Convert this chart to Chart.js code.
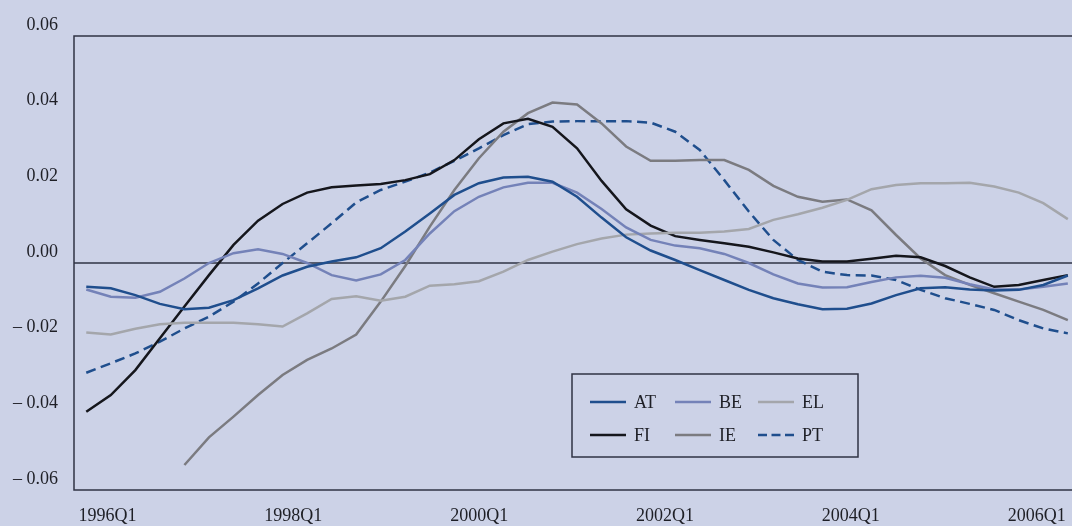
<!DOCTYPE html>
<html>
<head>
<meta charset="utf-8">
<script src="https://cdn.jsdelivr.net/npm/chart.js@4.4.0/dist/chart.umd.min.js"></script>
<style>
  html, body { margin: 0; padding: 0; background: #ccd2e7; }
  #wrap { position: relative; width: 1072px; height: 526px; }
</style>
</head>
<body>
<div id="wrap"><canvas id="myChart"></canvas></div>
<script>
// quarterly data, 1996Q1 .. 2006Q1
const quarters = [];
for (let yr = 1996; yr <= 2006; yr++) {
  for (let q = 1; q <= 4; q++) {
    if (yr === 2006 && q > 1) break;
    quarters.push(yr + 'Q' + q);
  }
}

const xTickLabels = ['1996Q1', '1998Q1', '2000Q1', '2002Q1', '2004Q1', '2006Q1'];
const yTicks = [-0.06, -0.04, -0.02, 0, 0.02, 0.04, 0.06];

const AT = [-0.0063, -0.0067, -0.0085, -0.0108, -0.0122, -0.0118, -0.0098, -0.0067, -0.0033, -0.0010, 0.0004,
  0.0015, 0.0039, 0.0083, 0.0131, 0.0180, 0.0211, 0.0226, 0.0228, 0.0215, 0.0175,
  0.0120, 0.0068, 0.0033, 0.0008, -0.0019, -0.0045, -0.0071, -0.0093, -0.0109, -0.0122,
  -0.0121, -0.0107, -0.0085, -0.0067, -0.0064, -0.0070, -0.0073, -0.0071, -0.0058, -0.0033];
const BE = [-0.0070, -0.0089, -0.0092, -0.0076, -0.0041, 0.0000, 0.0026, 0.0036, 0.0024, 0.0000, -0.0032,
  -0.0046, -0.0030, 0.0008, 0.0078, 0.0137, 0.0175, 0.0200, 0.0212, 0.0212, 0.0186,
  0.0143, 0.0094, 0.0061, 0.0046, 0.0039, 0.0024, 0.0000, -0.0030, -0.0054, -0.0065,
  -0.0064, -0.0050, -0.0038, -0.0034, -0.0039, -0.0056, -0.0070, -0.0070, -0.0063, -0.0054];
const EL = [-0.0184, -0.0189, -0.0174, -0.0162, -0.0158, -0.0158, -0.0158, -0.0162, -0.0168, -0.0133, -0.0095,
  -0.0088, -0.0100, -0.0089, -0.0060, -0.0056, -0.0048, -0.0023, 0.0008, 0.0030, 0.0050,
  0.0065, 0.0075, 0.0078, 0.0080, 0.0080, 0.0083, 0.0090, 0.0114, 0.0129, 0.0146,
  0.0167, 0.0195, 0.0206, 0.0211, 0.0211, 0.0212, 0.0202, 0.0186, 0.0158, 0.0116];
const FI = [-0.0393, -0.0349, -0.0283, -0.0199, -0.0115, -0.0032, 0.0048, 0.0112, 0.0156, 0.0186, 0.0200,
  0.0205, 0.0209, 0.0219, 0.0235, 0.0272, 0.0327, 0.0369, 0.0381, 0.0360, 0.0303,
  0.0217, 0.0142, 0.0099, 0.0071, 0.0061, 0.0052, 0.0043, 0.0028, 0.0012, 0.0004,
  0.0004, 0.0011, 0.0019, 0.0015, -0.0008, -0.0038, -0.0063, -0.0058, -0.0045, -0.0032];
const IE = [null, null, null, null, -0.0534, -0.0461, -0.0406, -0.0349, -0.0296, -0.0256, -0.0226,
  -0.0189, -0.0102, -0.0008, 0.0096, 0.0193, 0.0277, 0.0347, 0.0396, 0.0424, 0.0419,
  0.0369, 0.0308, 0.0270, 0.0270, 0.0272, 0.0272, 0.0246, 0.0204, 0.0175, 0.0162,
  0.0168, 0.0139, 0.0074, 0.0012, -0.0032, -0.0058, -0.0080, -0.0102, -0.0124, -0.0151];
const PT = [-0.0290, -0.0265, -0.0239, -0.0208, -0.0173, -0.0142, -0.0102, -0.0054, 0.0000, 0.0052, 0.0105,
  0.0160, 0.0193, 0.0215, 0.0239, 0.0270, 0.0303, 0.0338, 0.0367, 0.0374, 0.0375,
  0.0375, 0.0375, 0.0371, 0.0347, 0.0299, 0.0219, 0.0136, 0.0061, 0.0008, -0.0023,
  -0.0032, -0.0033, -0.0045, -0.0071, -0.0093, -0.0108, -0.0124, -0.0151, -0.0173, -0.0186];

const FONT = { family: "'Liberation Serif', 'Times New Roman', serif", size: 18 };
const TEXT = '#1e1f26';

function series(label, values, color, dash) {
  return {
    label: label,
    data: values.map((v, i) => ({ x: i, y: v })),
    borderColor: color,
    borderWidth: 2.5,
    borderDash: dash || [],
    pointRadius: 0,
    tension: 0,
    fill: false
  };
}

// box round the plot, zero line and the boxed legend
const framePlugin = {
  id: 'frame',
  beforeDatasetsDraw(chart) {
    const { ctx, chartArea: a, scales } = chart;
    const y0 = scales.y.getPixelForValue(0);
    ctx.save();
    ctx.strokeStyle = '#2f3344';
    ctx.lineWidth = 1.5;
    ctx.strokeRect(a.left, a.top, a.width + 4, a.height);
    ctx.beginPath();
    ctx.moveTo(a.left, y0);
    ctx.lineTo(a.right, y0);
    ctx.stroke();
    ctx.restore();
  },
  afterDraw(chart) {
    const ctx = chart.ctx;
    const ds = chart.data.datasets;
    const cols = [590, 675, 758];
    const rows = [402, 435];
    ctx.save();
    ctx.fillStyle = '#ccd2e7';
    ctx.fillRect(572, 374, 286, 83);
    ctx.strokeStyle = '#2f3344';
    ctx.lineWidth = 1.5;
    ctx.setLineDash([]);
    ctx.strokeRect(572, 374, 286, 83);
    ctx.font = FONT.size + 'px ' + FONT.family;
    ctx.textBaseline = 'middle';
    ctx.fillStyle = TEXT;
    ds.forEach((d, i) => {
      const x = cols[i % 3];
      const y = rows[Math.floor(i / 3)];
      ctx.strokeStyle = d.borderColor;
      ctx.lineWidth = d.borderWidth;
      ctx.setLineDash(d.borderDash.length ? [9, 4.5] : []);
      ctx.beginPath();
      ctx.moveTo(x, y);
      ctx.lineTo(x + 36, y);
      ctx.stroke();
      ctx.fillText(d.label, x + 44, y + 1);
    });
    ctx.restore();
  }
};

const ctx = document.getElementById('myChart').getContext('2d');
const myChart = new Chart(ctx, {
  type: 'line',
  data: {
    datasets: [
      series('AT', AT, '#1f4e8d'),
      series('BE', BE, '#7482b8'),
      series('EL', EL, '#a4a6ab'),
      series('FI', FI, '#15161c'),
      series('IE', IE, '#7b7b80'),
      series('PT', PT, '#1f4e8d', [10, 5.5])
    ]
  },
  options: {
    responsive: true,
    maintainAspectRatio: false,
    animation: false,
    layout: { padding: { top: 36, right: 0, left: 0, bottom: 0 } },
    plugins: { legend: { display: false }, tooltip: { enabled: false } },
    scales: {
      x: {
        type: 'linear',
        display: false,
        min: -0.5,
        max: quarters.length - 1 + 0.17
      },
      xl: {
        type: 'linear',
        position: 'bottom',
        min: -0.18,
        max: 5.19,
        grid: { display: false, drawTicks: false },
        border: { display: false },
        afterBuildTicks: s => { s.ticks = xTickLabels.map((t, i) => ({ value: i })); },
        afterFit: s => { s.height = 36; s.paddingLeft = 0; s.paddingRight = 0; },
        ticks: {
          autoSkip: false,
          maxRotation: 0,
          padding: 15,
          color: TEXT,
          font: FONT,
          callback: (v, i) => xTickLabels[i]
        }
      },
      y: {
        min: -0.06,
        max: 0.06,
        grid: { display: false, drawTicks: false },
        border: { display: false },
        afterBuildTicks: s => { s.ticks = yTicks.map(v => ({ value: v })); },
        afterFit: s => { s.width = 74; s.paddingTop = 0; s.paddingBottom = 0; },
        ticks: {
          padding: 16,
          labelOffset: -11,
          color: TEXT,
          font: FONT,
          callback: v => {
            const r = Math.round(v * 100) / 100;
            return r < 0 ? '\u2013 ' + Math.abs(r).toFixed(2) : r.toFixed(2);
          }
        }
      }
    }
  },
  plugins: [framePlugin]
});
</script>
</body>
</html>
